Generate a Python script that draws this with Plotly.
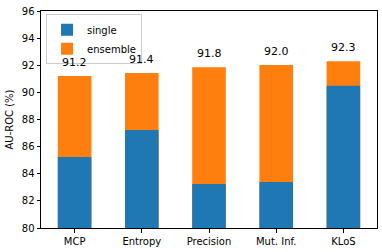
import plotly.graph_objects as go

categories = ["MCP", "Entropy", "Precision", "Mut. Inf.", "KLoS"]
single = [85.24, 87.22, 83.25, 83.4, 90.48]
ensemble = [91.2, 91.43, 91.85, 92.02, 92.3]
labels = ["91.2", "91.4", "91.8", "92.0", "92.3"]

BLUE = "#1f77b4"
ORANGE = "#ff7f0e"
FONT = "DejaVu Sans"

x = list(range(len(categories)))

fig = go.Figure()
fig.add_trace(go.Bar(x=x, y=[v - 80 for v in ensemble], base=80, width=0.5,
                     marker=dict(color=ORANGE, line=dict(width=0)), name="ensemble"))
fig.add_trace(go.Bar(x=x, y=[v - 80 for v in single], base=80, width=0.5,
                     marker=dict(color=BLUE, line=dict(width=0)), name="single"))

for xi, yi, t in zip(x, ensemble, labels):
    fig.add_annotation(x=xi, y=yi, text=t, showarrow=False, yanchor="bottom",
                       yshift=5, font=dict(family=FONT, size=11, color="#000"))

fig.update_layout(
    width=382, height=252,
    margin=dict(l=41, r=5, t=11, b=24),
    barmode="overlay",
    plot_bgcolor="white", paper_bgcolor="white",
    font=dict(family=FONT, size=10, color="#000"),
    showlegend=True,
    legend=dict(x=0.015, y=0.985, xanchor="left", yanchor="top",
                traceorder="reversed", bgcolor="rgba(255,255,255,0.8)",
                bordercolor="#cccccc", borderwidth=1, itemwidth=30,
                tracegroupgap=0,
                font=dict(family=FONT, size=10)),
    xaxis=dict(tickvals=x, ticktext=categories, range=[-0.5, 4.5],
               showline=True, linecolor="#000", linewidth=1, mirror=True,
               ticks="outside", ticklen=3.5, tickcolor="#000", showgrid=False,
               zeroline=False),
    yaxis=dict(range=[80, 96], dtick=2, showline=True, linecolor="#000",
               linewidth=1, mirror=True, ticks="outside", ticklen=3.5,
               tickcolor="#000", showgrid=False, zeroline=False,
               title=dict(text="AU-ROC (%)", standoff=6, font=dict(size=10))),
)

fig.write_html("out.html", config={"displayModeBar": False},
               post_script="document.body.style.margin='0';document.body.style.overflow='hidden';")
